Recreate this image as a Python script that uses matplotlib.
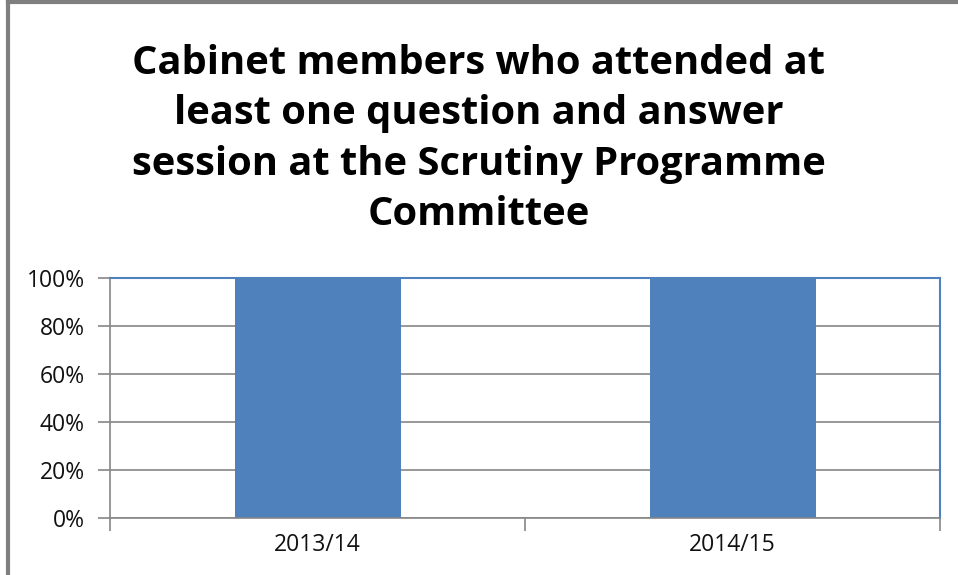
import matplotlib; matplotlib.use('Agg')
import matplotlib.pyplot as plt
from matplotlib.ticker import PercentFormatter, FixedLocator
from matplotlib.lines import Line2D

categories = ['2013/14', '2014/15']
values = [100, 100]
yticks = [0, 20, 40, 60, 80, 100]
title = ('Cabinet members who attended at\nleast one question and answer\n'
         'session at the Scrutiny Programme\nCommittee')

BLUE = '#4f81bd'; GRID = '#868686'
FONT = ['Open Sans', 'DejaVu Sans']
plt.rcParams['font.family'] = FONT

fig = plt.figure(figsize=(9.58, 5.75), dpi=100)
ax = fig.add_axes([110/958, 57/575, 830/958, 240/575])
x = list(range(len(categories)))
ax.bar(x, values, width=0.4, color=BLUE, zorder=3)
ax.set_xlim(-0.5, len(categories) - 0.5); ax.set_ylim(0, 100)
ax.set_yticks(yticks)
ax.yaxis.set_major_formatter(PercentFormatter(decimals=0))
ax.set_xticks(x); ax.set_xticklabels(categories)
ax.xaxis.set_minor_locator(FixedLocator([i - 0.5 for i in range(len(categories) + 1)]))
ax.tick_params(axis='x', which='major', length=0, pad=11, labelsize=16.5, labelcolor='#111')
ax.tick_params(axis='x', which='minor', length=9, color=GRID, width=1.2)
ax.tick_params(axis='y', length=9, color=GRID, width=1.2, labelsize=16.5, pad=9, labelcolor='#111')
ax.grid(axis='y', color=GRID, lw=1.2, zorder=1)
for s in ['left', 'bottom']: ax.spines[s].set_color(GRID); ax.spines[s].set_linewidth(1.2)
for s in ['top', 'right']: ax.spines[s].set_color(BLUE); ax.spines[s].set_linewidth(1.5)
ax.spines['bottom'].set_zorder(4)

fig.text(0.5, 1 - 139/575, title, ha='center', va='center', fontsize=28.7,
         fontweight='bold', linespacing=1.38)
# outer chart border
fig.add_artist(Line2D([8/958, 8/958], [0, 1 - 2/575], color='#7f7f7f', lw=3))
fig.add_artist(Line2D([8/958, 1], [1 - 2/575, 1 - 2/575], color='#7f7f7f', lw=3))
fig.savefig('out.png', dpi=100)
